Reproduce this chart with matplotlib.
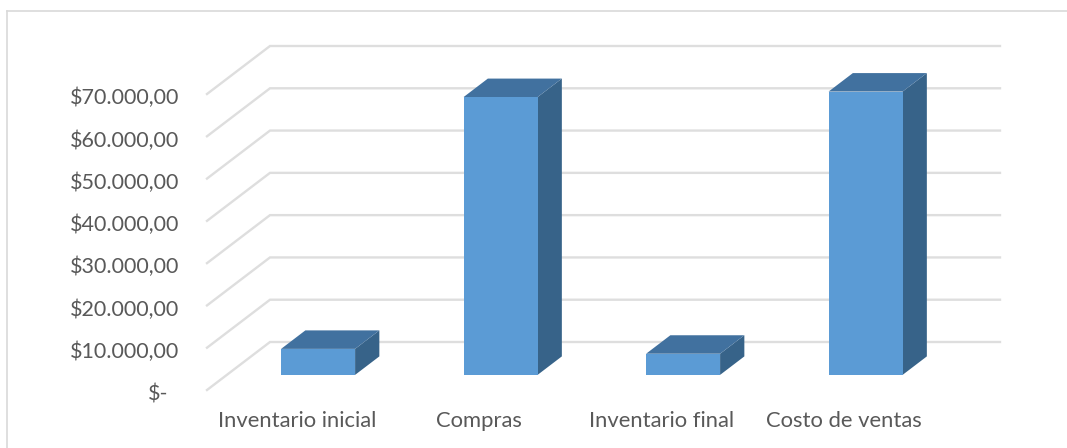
from matplotlib import pyplot as plt

categories = ['Inventario inicial', 'Compras', 'Inventario final', 'Costo de ventas']
values = [6150, 65700, 5000, 67000]
ytick_values = [0, 10000, 20000, 30000, 40000, 50000, 60000, 70000]
ytick_labels = ['$-', '$10.000,00', '$20.000,00', '$30.000,00', '$40.000,00',
                '$50.000,00', '$60.000,00', '$70.000,00']

plt.rcParams['font.family'] = ['Lato', 'DejaVu Sans']

W, H = 1067, 448
text_color = '#595959'
grid_color = '#dedede'

fig = plt.figure(figsize=(W / 100, H / 100), dpi=100)
fig.patch.set_facecolor('white')

# chart frame, open on the right and at the bottom like the screenshot
frame_kw = dict(color='#d9d9d9', lw=1.2, transform=fig.transFigure)
fig.add_artist(plt.Line2D([7 / W, 7 / W], [0, 1 - 11.5 / H], **frame_kw))
fig.add_artist(plt.Line2D([7 / W, 1], [1 - 11.5 / H, 1 - 11.5 / H], **frame_kw))

# front plane of the fake 3d box is the axes itself
ax = fig.add_axes([207 / W, 1 - 390 / H, 730 / W, 296 / H])
ax.set_xlim(-0.5, 3.5)
ax.set_ylim(0, 70000)
ax.axis('off')

# depth of the box as a fraction of the full depth
box_dx = 63 / 182.5
box_dy = 48 / 296 * 70000


def project(x, y, depth):
    return x + depth * box_dx, y + depth * box_dy


# gridlines: diagonal on the left wall, then straight along the back wall
for v in ytick_values:
    x0, y0 = project(-0.5, v, 0)
    x1, y1 = project(-0.5, v, 1)
    x2, y2 = project(3.5, v, 1)
    ax.plot([x0, x1, x2], [y0, y1, y2], color=grid_color, lw=1.7, clip_on=False,
            solid_joinstyle='miter', zorder=1)

# bars sit in the middle of the floor
bar_width = 74 / 182.5
d0, d1 = 0.315, 0.70
for i, v in enumerate(values):
    xl = i - bar_width / 2
    xr = i + bar_width / 2
    front = [project(xl, 0, d0), project(xr, 0, d0), project(xr, v, d0), project(xl, v, d0)]
    side = [project(xr, 0, d0), project(xr, 0, d1), project(xr, v, d1), project(xr, v, d0)]
    top = [project(xl, v, d0), project(xr, v, d0), project(xr, v, d1), project(xl, v, d1)]
    ax.fill(*zip(*side), color='#376389', lw=0, clip_on=False, zorder=3)
    ax.fill(*zip(*top), color='#41719f', lw=0, clip_on=False, zorder=3)
    ax.fill(*zip(*front), color='#5b9bd5', lw=0, clip_on=False, zorder=4)

# axis labels
for v, lab in zip(ytick_values, ytick_labels):
    right_px = 179 if v > 0 else 168
    ax.annotate(lab, xy=(0, v), xycoords=('figure fraction', 'data'),
                xytext=(right_px * 0.72, -3), textcoords=('figure points', 'offset points'),
                ha='right', va='center', fontsize=15.5, color=text_color)
for i, lab in enumerate(categories):
    ax.annotate(lab, xy=(i, 0), xycoords='data', xytext=(-1, -22.5),
                textcoords='offset points', ha='center', va='center',
                fontsize=15.8, color=text_color)

fig.savefig('out.png', dpi=100)
